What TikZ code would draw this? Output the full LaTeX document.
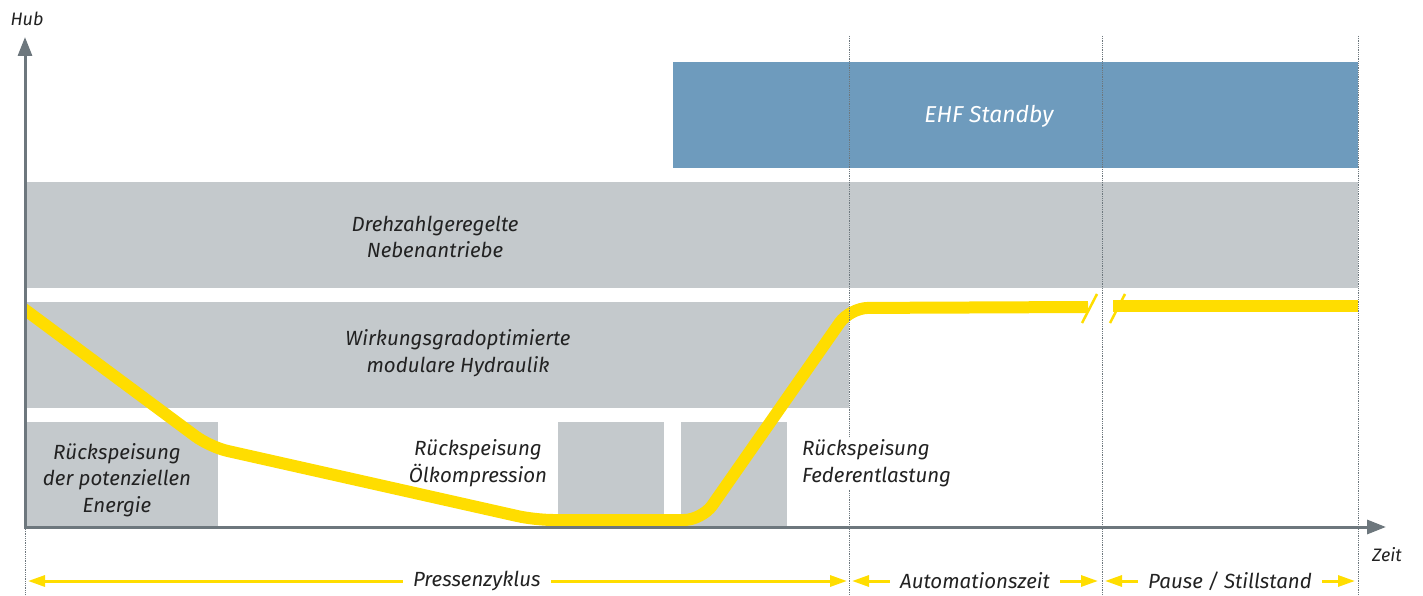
\documentclass[tikz,border=0pt]{standalone}
\usepackage{fontspec}
\setmainfont{Fira Sans}
\usepackage{xcolor}
\usetikzlibrary{arrows.meta}
\definecolor{hubgray}{HTML}{C4C9CC}
\definecolor{ehfblue}{HTML}{6E9BBD}
\definecolor{hubyellow}{HTML}{FFDD00}
\definecolor{axisgray}{HTML}{6D777D}
\definecolor{textdark}{HTML}{222222}

\begin{document}
\begin{tikzpicture}[x=1pt,y=-1pt]
\tikzset{label text/.style={font=\fontsize{20.5}{26.5}\selectfont\itshape,text=textdark,align=center,inner sep=0pt}}
\tikzset{axis text/.style={font=\fontsize{18}{20}\selectfont\itshape,text=textdark,inner sep=0pt}}
\tikzset{axis line/.style={draw=axisgray,line width=3pt,{Triangle[length=19pt,width=14pt]}-{Triangle[length=19pt,width=14pt]}}}
\tikzset{phase line/.style={draw=axisgray,line width=0.8pt,densely dotted}}
\tikzset{phase arrow/.style={draw=hubyellow,line width=3pt,{Triangle[length=17pt,width=11pt]}-{Triangle[length=17pt,width=11pt]}}}
\tikzset{phase text/.style={label text,fill=white,inner xsep=10pt,inner ysep=3pt}}
\tikzset{stroke/.style={draw=hubyellow,line width=12pt}}

\useasboundingbox (0,0) rectangle (1423,596);

\fill[ehfblue] (673,62) rectangle (1358,168);
\fill[hubgray] (25,182) rectangle (1358,288);
\fill[hubgray] (25,302) rectangle (849,408);
\fill[hubgray] (25,422) rectangle (218,527);
\fill[hubgray] (558,422) rectangle (664,527);
\fill[hubgray] (681,422) rectangle (787,527);

\node[label text,text=white,font=\fontsize{23}{26}\selectfont\itshape] (standby) at (989,116) {EHF Standby};
\node[label text] (nebenantriebe) at (435,237) {Drehzahlgeregelte\\Nebenantriebe};
\node[label text] (hydraulik) at (458,353) {Wirkungsgradoptimierte\\modulare Hydraulik};
\node[label text] (energie) at (117,480) {Rückspeisung\\der potenziellen\\Energie};
\node[label text] (oel) at (478,463) {Rückspeisung\\Ölkompression};

\begin{scope}
\clip (25,250) rectangle (1400,540);
\draw[stroke,rounded corners=18pt] (20,306) -- (210,447) -- (535,520) -- (702,520) -- (850,308) -- (1088,307);
\end{scope}
\draw[stroke] (1113,306) -- (1358,306);
\draw[hubyellow,line width=2.5pt] (1082,323) -- (1097,294);
\draw[hubyellow,line width=2.5pt] (1110,323) -- (1125,294);

\coordinate (hubtop) at (25,37);
\coordinate (origin) at (25,527);
\coordinate (zeitend) at (1386,527);
\draw[axis line] (hubtop) -- (origin) -- (zeitend);
\node[axis text] (hub) at (27,19) {Hub};
\node[axis text] (zeit) at (1387,555) {Zeit};

\draw[phase line] (25,529) -- (25,596);
\foreach \x in {849,1102,1358}
  \draw[phase line] (\x,36) -- (\x,596);

\node[label text,align=left,anchor=west,fill=white,inner sep=3pt] (feder) at (799,463) {Rückspeisung\\Federentlastung};

\coordinate (zyklusA) at (28,581);
\coordinate (zyklusB) at (847,581);
\coordinate (automationA) at (852,581);
\coordinate (automationB) at (1098,581);
\coordinate (pauseA) at (1105,581);
\coordinate (pauseB) at (1355,581);
\draw[phase arrow] (zyklusA) -- node[phase text,pos=0.548] (zyklus) {Pressenzyklus} (zyklusB);
\draw[phase arrow] (automationA) -- node[phase text] (automation) {Automationszeit} (automationB);
\draw[phase arrow] (pauseA) -- node[phase text] (pause) {Pause / Stillstand} (pauseB);

\end{tikzpicture}
\end{document}
